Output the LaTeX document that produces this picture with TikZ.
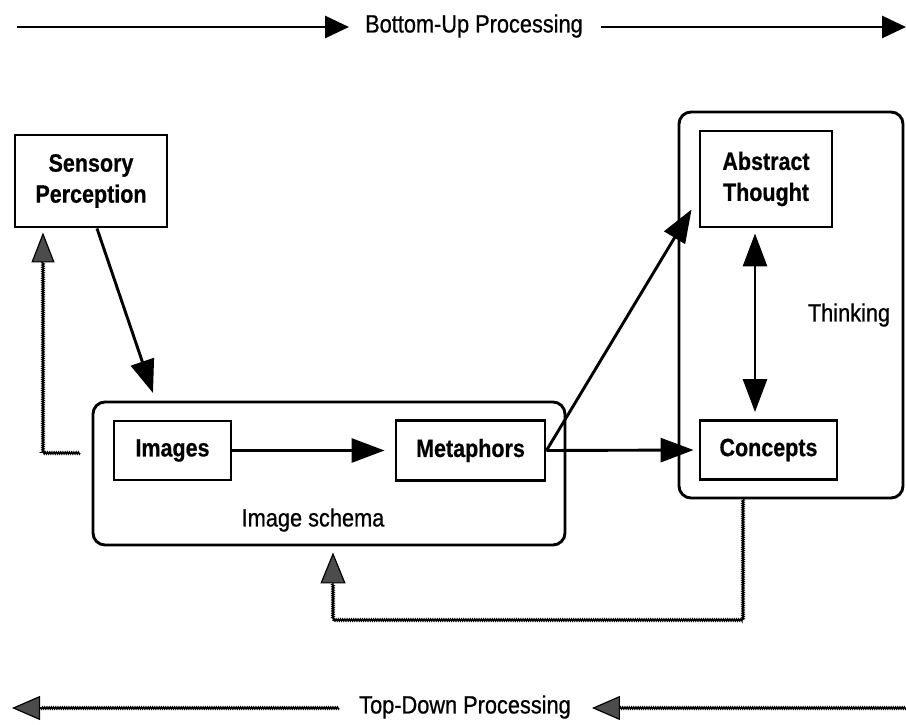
\documentclass[tikz,border=0pt]{standalone}
\usepackage{fontspec}
\setmainfont{Liberation Sans}[FakeStretch=0.88]
\newfontfamily\lblfont{Liberation Sans}[FakeStretch=0.87, FakeBold=0.7]
\newfontfamily\boxfont{Liberation Sans Bold}[FakeStretch=0.86, FakeBold=0.6]
\usetikzlibrary{arrows.meta,decorations.pathmorphing,calc}

\begin{document}
\begin{tikzpicture}[x=1pt,y=-1pt,
  lbl/.style={font=\lblfont\fontsize{25}{31}\selectfont, align=center, inner sep=0pt},
  box/.style={draw, line width=2.9pt, inner sep=0pt, align=center,
              font=\boxfont\fontsize{25}{31}\selectfont},
  group/.style={draw, line width=2.9pt, rounded corners=12pt, inner sep=0pt},
  flow/.style={line width=2.9pt, -{Triangle[length=33pt,width=24pt]}},
  twoway/.style={line width=2.9pt, {Triangle[length=33pt,width=24pt]}-{Triangle[length=33pt,width=24pt]}},
  banner/.style={line width=2.9pt, -{Triangle[length=24pt,width=22pt]}},
  stipple/.style={draw=black, line width=1.4pt, decorate,
                  decoration={zigzag, segment length=2.2pt, amplitude=1pt}},
  stiphead/.style={line width=1.2pt, draw=black,
                   -{Triangle[length=30pt,width=23pt,fill=black!70]}},
]
\useasboundingbox (0,0) rectangle (906,725);
\fill[white] (0,0) rectangle (906,725);

% grouping frames
\node[group, minimum width=472pt, minimum height=143pt] (schema) at (329,473.5) {};
\node[group, minimum width=224pt, minimum height=386pt] (thinking) at (791,305) {};
\node[lbl] (schemalbl) at (313,520) {Image schema};
\node[lbl] (thinklbl) at (849,315) {Thinking};

% stages
\node[box, minimum width=152pt, minimum height=92pt] (sensory) at (91,181) {Sensory\\Perception};
\node[box, minimum width=117pt, minimum height=59pt] (images) at (172.5,450.5) {Images};
\node[box, minimum width=149pt, minimum height=60pt] (metaphors) at (470.5,450.5) {Metaphors};
\node[box, minimum width=132pt, minimum height=96pt] (abstract) at (766,179) {Abstract\\Thought};
\node[box, minimum width=137pt, minimum height=59pt] (concepts) at (768.5,450) {Concepts};

% forward flow
\draw[flow, shorten >=8pt] ([xshift=6pt]sensory.south) -- ($(schema.north west)+(64,0)$);
\draw[flow, shorten >=10pt] (images.east) -- (metaphors.west);
\draw[flow] (metaphors.east) -- ($(abstract.south west)+(-7,-19)$);
\draw[flow, shorten >=5pt] (metaphors.east) -- (concepts.west);
\coordinate (dx) at (755,0);
\draw[twoway, shorten <=5pt, shorten >=7pt] (abstract.south -| dx) -- (concepts.north -| dx);

% feedback paths
\coordinate (fbA) at (80,453);
\coordinate (fbB) at (43,453);
\coordinate (fbC) at (43,262);
\draw[stipple] (fbA) -- (fbB) -- (fbC);
\draw[stiphead, shorten >=4pt] ([yshift=1pt]fbC) -- (sensory.south -| fbC);

\coordinate (fbD) at (743,620);
\coordinate (fbE) at (333,620);
\coordinate (fbF) at (333,583);
\draw[stipple] (thinking.south -| fbD) -- (fbD) -- (fbE) -- (fbF);
\draw[stiphead, -{Triangle[length=31pt,width=25pt,fill=black!70]}, shorten >=6pt]
  ([yshift=1pt]fbF) -- (schema.south -| fbF);

% direction banners
\node[lbl] (bu) at (474,26) {Bottom-Up Processing};
\coordinate (buL) at (17,27);
\coordinate (buR) at (906,27);
\draw[banner, shorten >=16pt] (buL) -- (bu.west |- buL);
\draw[banner, shorten <=18pt] (bu.east |- buR) -- (buR);

\node[lbl] (td) at (465,707) {Top-Down Processing};
\coordinate (tdL) at (12,708);
\coordinate (tdLh) at (40,708);
\coordinate (tdR) at (906,708);
\coordinate (tdRh) at (618,708);
\draw[stipple] (td.west |- tdL) ++(-20,0) -- (tdLh);
\draw[stiphead, -{Triangle[length=28pt,width=24pt,fill=black!70]}] ([xshift=1pt]tdLh) -- (tdL);
\draw[stipple] (tdR) -- (tdRh);
\draw[stiphead, -{Triangle[length=28pt,width=24pt,fill=black!70]}] ([xshift=1pt]tdRh) -- ($(td.east |- tdR)+(21,0)$);
\end{tikzpicture}
\end{document}
